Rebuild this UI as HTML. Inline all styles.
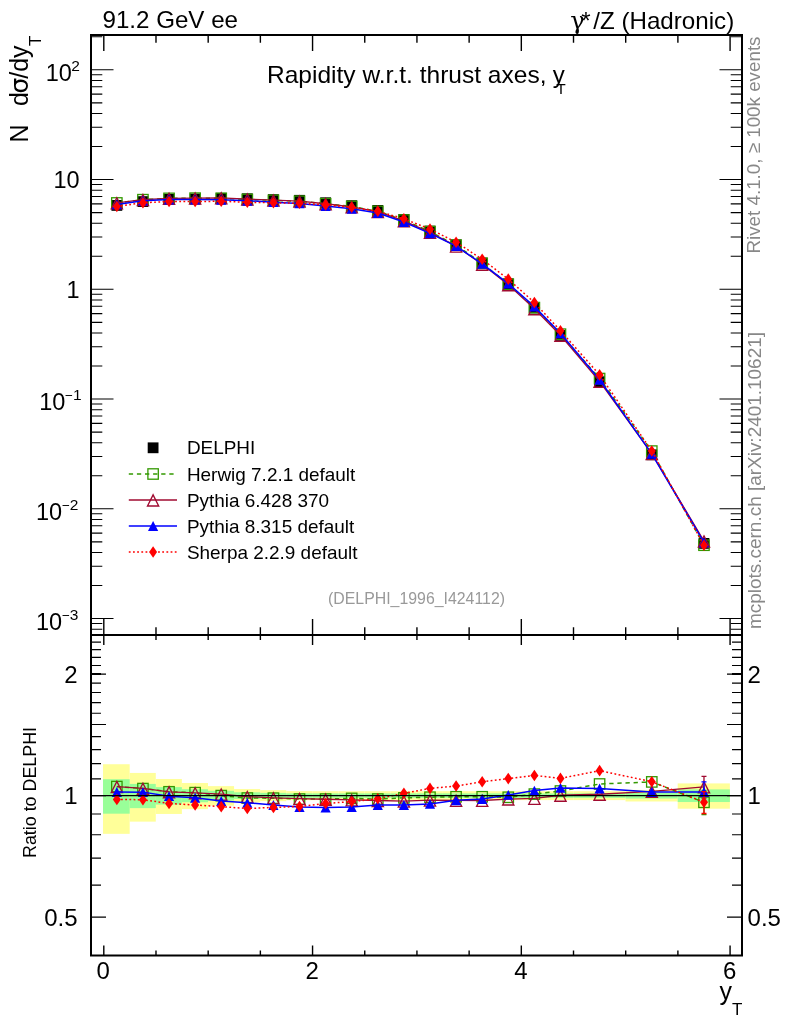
<!DOCTYPE html>
<html lang="en"><head><meta charset="utf-8"><title>Rapidity w.r.t. thrust axes</title>
<style>html,body{margin:0;padding:0;background:#fff}svg{display:block}text{font-family:"Liberation Sans",Arial,Helvetica,sans-serif;fill:#000}.sym{font-family:"Liberation Serif","DejaVu Serif",serif}.g{fill:#888}</style></head><body>
<svg width="786" height="1024" viewBox="0 0 786 1024">
<rect width="786" height="1024" fill="#fff"/>
<g id="bands">
<rect x="103" y="764.23" width="26.69" height="69.61" fill="#ffff99"/>
<rect x="129.69" y="772.94" width="26.1" height="48.69" fill="#ffff99"/>
<rect x="155.79" y="778.99" width="26.09" height="34.96" fill="#ffff99"/>
<rect x="181.88" y="783.02" width="26.1" height="26.13" fill="#ffff99"/>
<rect x="207.98" y="786.12" width="26.09" height="19.51" fill="#ffff99"/>
<rect x="234.07" y="789.06" width="26.1" height="13.33" fill="#ffff99"/>
<rect x="260.17" y="790.18" width="26.09" height="11.01" fill="#ffff99"/>
<rect x="286.26" y="791.1" width="26.1" height="9.12" fill="#ffff99"/>
<rect x="312.36" y="791.2" width="26.09" height="8.91" fill="#ffff99"/>
<rect x="338.45" y="791.2" width="26.1" height="8.91" fill="#ffff99"/>
<rect x="364.55" y="791.2" width="26.09" height="8.91" fill="#ffff99"/>
<rect x="390.64" y="791.2" width="26.1" height="8.91" fill="#ffff99"/>
<rect x="416.74" y="791.2" width="26.1" height="8.91" fill="#ffff99"/>
<rect x="442.84" y="791.2" width="26.09" height="8.91" fill="#ffff99"/>
<rect x="468.93" y="791.2" width="26.09" height="8.91" fill="#ffff99"/>
<rect x="495.02" y="791.2" width="26.09" height="8.91" fill="#ffff99"/>
<rect x="521.12" y="791.2" width="26.1" height="8.91" fill="#ffff99"/>
<rect x="547.21" y="791.2" width="26.1" height="8.91" fill="#ffff99"/>
<rect x="573.31" y="791.2" width="52.19" height="8.91" fill="#ffff99"/>
<rect x="625.5" y="789.91" width="52.19" height="11.57" fill="#ffff99"/>
<rect x="677.69" y="783.41" width="52.19" height="25.28" fill="#ffff99"/>
<rect x="103" y="779.21" width="26.69" height="34.47" fill="#99ff99"/>
<rect x="129.69" y="783.9" width="26.1" height="24.23" fill="#99ff99"/>
<rect x="155.79" y="787.1" width="26.09" height="17.44" fill="#99ff99"/>
<rect x="181.88" y="789.2" width="26.1" height="13.05" fill="#99ff99"/>
<rect x="207.98" y="790.79" width="26.09" height="9.75" fill="#99ff99"/>
<rect x="234.07" y="792.3" width="26.1" height="6.66" fill="#99ff99"/>
<rect x="260.17" y="792.87" width="26.09" height="5.5" fill="#99ff99"/>
<rect x="286.26" y="793.34" width="26.1" height="4.56" fill="#99ff99"/>
<rect x="312.36" y="793.39" width="26.09" height="4.45" fill="#99ff99"/>
<rect x="338.45" y="793.39" width="26.1" height="4.45" fill="#99ff99"/>
<rect x="364.55" y="793.39" width="26.09" height="4.45" fill="#99ff99"/>
<rect x="390.64" y="793.39" width="26.1" height="4.45" fill="#99ff99"/>
<rect x="416.74" y="793.39" width="26.1" height="4.45" fill="#99ff99"/>
<rect x="442.84" y="793.39" width="26.09" height="4.45" fill="#99ff99"/>
<rect x="468.93" y="793.39" width="26.09" height="4.45" fill="#99ff99"/>
<rect x="495.02" y="793.39" width="26.09" height="4.45" fill="#99ff99"/>
<rect x="521.12" y="793.39" width="26.1" height="4.45" fill="#99ff99"/>
<rect x="547.21" y="793.39" width="26.1" height="4.45" fill="#99ff99"/>
<rect x="573.31" y="793.39" width="52.19" height="4.45" fill="#99ff99"/>
<rect x="625.5" y="792.73" width="52.19" height="5.78" fill="#99ff99"/>
<rect x="677.69" y="789.4" width="52.19" height="12.63" fill="#99ff99"/>
</g>
<g id="main">
<rect x="111.45" y="200" width="10.8" height="10.8" fill="#000"/>
<rect x="137.54" y="196.2" width="10.8" height="10.8" fill="#000"/>
<rect x="163.64" y="194" width="10.8" height="10.8" fill="#000"/>
<rect x="189.73" y="193.55" width="10.8" height="10.8" fill="#000"/>
<rect x="215.83" y="192.9" width="10.8" height="10.8" fill="#000"/>
<rect x="241.92" y="193.35" width="10.8" height="10.8" fill="#000"/>
<rect x="268.02" y="194.2" width="10.8" height="10.8" fill="#000"/>
<rect x="294.11" y="194.9" width="10.8" height="10.8" fill="#000"/>
<rect x="320.21" y="197.35" width="10.8" height="10.8" fill="#000"/>
<rect x="346.3" y="200.25" width="10.8" height="10.8" fill="#000"/>
<rect x="372.4" y="205" width="10.8" height="10.8" fill="#000"/>
<rect x="398.49" y="214" width="10.8" height="10.8" fill="#000"/>
<rect x="424.59" y="225.7" width="10.8" height="10.8" fill="#000"/>
<rect x="450.68" y="239.4" width="10.8" height="10.8" fill="#000"/>
<rect x="476.78" y="257.6" width="10.8" height="10.8" fill="#000"/>
<rect x="502.87" y="278.4" width="10.8" height="10.8" fill="#000"/>
<rect x="528.97" y="302.6" width="10.8" height="10.8" fill="#000"/>
<rect x="555.06" y="330" width="10.8" height="10.8" fill="#000"/>
<rect x="594.2" y="376.3" width="10.8" height="10.8" fill="#000"/>
<rect x="646.39" y="449.4" width="10.8" height="10.8" fill="#000"/>
<rect x="698.58" y="538" width="10.8" height="10.8" fill="#000"/>
<polyline points="116.85,202.94 142.94,199.68 169.04,198.36 195.13,198.15 221.23,198.3 247.32,199.42 273.42,200.3 299.51,201.24 325.61,203.69 351.7,206.41 377.8,211.34 403.89,220.02 429.99,231.54 456.08,245.12 482.18,263.32 508.27,284.26 534.37,307.59 560.46,334.15 599.6,378.54 651.79,451.07 703.98,545.22" fill="none" stroke="#339900" stroke-width="1.5" stroke-dasharray="4.3 3.8"/>
<rect x="111.65" y="197.74" width="10.4" height="10.4" fill="none" stroke="#339900" stroke-width="1.3"/>
<rect x="137.74" y="194.48" width="10.4" height="10.4" fill="none" stroke="#339900" stroke-width="1.3"/>
<rect x="163.84" y="193.16" width="10.4" height="10.4" fill="none" stroke="#339900" stroke-width="1.3"/>
<rect x="189.93" y="192.95" width="10.4" height="10.4" fill="none" stroke="#339900" stroke-width="1.3"/>
<rect x="216.03" y="193.1" width="10.4" height="10.4" fill="none" stroke="#339900" stroke-width="1.3"/>
<rect x="242.12" y="194.22" width="10.4" height="10.4" fill="none" stroke="#339900" stroke-width="1.3"/>
<rect x="268.22" y="195.1" width="10.4" height="10.4" fill="none" stroke="#339900" stroke-width="1.3"/>
<rect x="294.31" y="196.04" width="10.4" height="10.4" fill="none" stroke="#339900" stroke-width="1.3"/>
<rect x="320.41" y="198.49" width="10.4" height="10.4" fill="none" stroke="#339900" stroke-width="1.3"/>
<rect x="346.5" y="201.21" width="10.4" height="10.4" fill="none" stroke="#339900" stroke-width="1.3"/>
<rect x="372.6" y="206.14" width="10.4" height="10.4" fill="none" stroke="#339900" stroke-width="1.3"/>
<rect x="398.69" y="214.82" width="10.4" height="10.4" fill="none" stroke="#339900" stroke-width="1.3"/>
<rect x="424.79" y="226.34" width="10.4" height="10.4" fill="none" stroke="#339900" stroke-width="1.3"/>
<rect x="450.88" y="239.92" width="10.4" height="10.4" fill="none" stroke="#339900" stroke-width="1.3"/>
<rect x="476.98" y="258.12" width="10.4" height="10.4" fill="none" stroke="#339900" stroke-width="1.3"/>
<rect x="503.07" y="279.06" width="10.4" height="10.4" fill="none" stroke="#339900" stroke-width="1.3"/>
<rect x="529.17" y="302.39" width="10.4" height="10.4" fill="none" stroke="#339900" stroke-width="1.3"/>
<rect x="555.26" y="328.95" width="10.4" height="10.4" fill="none" stroke="#339900" stroke-width="1.3"/>
<rect x="594.4" y="373.34" width="10.4" height="10.4" fill="none" stroke="#339900" stroke-width="1.3"/>
<rect x="646.59" y="445.87" width="10.4" height="10.4" fill="none" stroke="#339900" stroke-width="1.3"/>
<rect x="698.78" y="540.02" width="10.4" height="10.4" fill="none" stroke="#339900" stroke-width="1.3"/>
<polyline points="116.85,202.94 142.94,199.64 169.04,198.36 195.13,198.19 221.23,197.92 247.32,199.04 273.42,200.22 299.51,201.13 325.61,203.75 351.7,206.84 377.8,211.73 403.89,220.92 429.99,232.34 456.08,246.09 482.18,264.33 508.27,284.74 534.37,308.75 560.46,335.31 599.6,381.33 651.79,453.67 703.98,541.03" fill="none" stroke="#a00a30" stroke-width="1.3"/>
<path d="M116.85 197.8L122.45 208.9L111.25 208.9Z" fill="none" stroke="#a00a30" stroke-width="1.35" stroke-linejoin="miter"/>
<path d="M142.94 194.5L148.54 205.6L137.34 205.6Z" fill="none" stroke="#a00a30" stroke-width="1.35" stroke-linejoin="miter"/>
<path d="M169.04 193.22L174.64 204.32L163.44 204.32Z" fill="none" stroke="#a00a30" stroke-width="1.35" stroke-linejoin="miter"/>
<path d="M195.13 193.05L200.73 204.15L189.53 204.15Z" fill="none" stroke="#a00a30" stroke-width="1.35" stroke-linejoin="miter"/>
<path d="M221.23 192.78L226.83 203.88L215.63 203.88Z" fill="none" stroke="#a00a30" stroke-width="1.35" stroke-linejoin="miter"/>
<path d="M247.32 193.9L252.92 205L241.72 205Z" fill="none" stroke="#a00a30" stroke-width="1.35" stroke-linejoin="miter"/>
<path d="M273.42 195.08L279.02 206.18L267.82 206.18Z" fill="none" stroke="#a00a30" stroke-width="1.35" stroke-linejoin="miter"/>
<path d="M299.51 195.99L305.11 207.09L293.91 207.09Z" fill="none" stroke="#a00a30" stroke-width="1.35" stroke-linejoin="miter"/>
<path d="M325.61 198.61L331.21 209.71L320.01 209.71Z" fill="none" stroke="#a00a30" stroke-width="1.35" stroke-linejoin="miter"/>
<path d="M351.7 201.7L357.3 212.8L346.1 212.8Z" fill="none" stroke="#a00a30" stroke-width="1.35" stroke-linejoin="miter"/>
<path d="M377.8 206.59L383.4 217.69L372.2 217.69Z" fill="none" stroke="#a00a30" stroke-width="1.35" stroke-linejoin="miter"/>
<path d="M403.89 215.78L409.49 226.88L398.29 226.88Z" fill="none" stroke="#a00a30" stroke-width="1.35" stroke-linejoin="miter"/>
<path d="M429.99 227.2L435.59 238.3L424.39 238.3Z" fill="none" stroke="#a00a30" stroke-width="1.35" stroke-linejoin="miter"/>
<path d="M456.08 240.95L461.68 252.05L450.48 252.05Z" fill="none" stroke="#a00a30" stroke-width="1.35" stroke-linejoin="miter"/>
<path d="M482.18 259.19L487.78 270.29L476.58 270.29Z" fill="none" stroke="#a00a30" stroke-width="1.35" stroke-linejoin="miter"/>
<path d="M508.27 279.6L513.87 290.7L502.67 290.7Z" fill="none" stroke="#a00a30" stroke-width="1.35" stroke-linejoin="miter"/>
<path d="M534.37 303.61L539.97 314.71L528.77 314.71Z" fill="none" stroke="#a00a30" stroke-width="1.35" stroke-linejoin="miter"/>
<path d="M560.46 330.17L566.06 341.27L554.86 341.27Z" fill="none" stroke="#a00a30" stroke-width="1.35" stroke-linejoin="miter"/>
<path d="M599.6 376.19L605.2 387.29L594 387.29Z" fill="none" stroke="#a00a30" stroke-width="1.35" stroke-linejoin="miter"/>
<path d="M651.79 448.53L657.39 459.63L646.19 459.63Z" fill="none" stroke="#a00a30" stroke-width="1.35" stroke-linejoin="miter"/>
<path d="M703.98 535.89L709.58 546.99L698.38 546.99Z" fill="none" stroke="#a00a30" stroke-width="1.35" stroke-linejoin="miter"/>
<polyline points="116.85,204.41 142.94,200.66 169.04,199.54 195.13,199.55 221.23,199.75 247.32,200.7 273.42,202.16 299.51,203.4 325.61,206.01 351.7,208.77 377.8,212.94 403.89,221.94 429.99,233.35 456.08,246.09 482.18,263.91 508.27,283.61 534.37,306.63 560.46,333.3 599.6,379.77 651.79,453.81 703.98,542.4" fill="none" stroke="#0000ff" stroke-width="1.5"/>
<path d="M116.85 199.46L121.95 209.36L111.75 209.36Z" fill="#0000ff"/>
<path d="M142.94 195.71L148.04 205.61L137.84 205.61Z" fill="#0000ff"/>
<path d="M169.04 194.59L174.14 204.49L163.94 204.49Z" fill="#0000ff"/>
<path d="M195.13 194.6L200.23 204.5L190.03 204.5Z" fill="#0000ff"/>
<path d="M221.23 194.8L226.33 204.7L216.13 204.7Z" fill="#0000ff"/>
<path d="M247.32 195.75L252.42 205.65L242.22 205.65Z" fill="#0000ff"/>
<path d="M273.42 197.21L278.52 207.11L268.32 207.11Z" fill="#0000ff"/>
<path d="M299.51 198.45L304.61 208.35L294.41 208.35Z" fill="#0000ff"/>
<path d="M325.61 201.06L330.71 210.96L320.51 210.96Z" fill="#0000ff"/>
<path d="M351.7 203.82L356.8 213.72L346.6 213.72Z" fill="#0000ff"/>
<path d="M377.8 207.99L382.9 217.89L372.7 217.89Z" fill="#0000ff"/>
<path d="M403.89 216.99L408.99 226.89L398.79 226.89Z" fill="#0000ff"/>
<path d="M429.99 228.4L435.09 238.3L424.89 238.3Z" fill="#0000ff"/>
<path d="M456.08 241.14L461.18 251.04L450.98 251.04Z" fill="#0000ff"/>
<path d="M482.18 258.96L487.28 268.86L477.08 268.86Z" fill="#0000ff"/>
<path d="M508.27 278.66L513.37 288.56L503.17 288.56Z" fill="#0000ff"/>
<path d="M534.37 301.68L539.47 311.58L529.27 311.58Z" fill="#0000ff"/>
<path d="M560.46 328.35L565.56 338.25L555.36 338.25Z" fill="#0000ff"/>
<path d="M599.6 374.82L604.7 384.72L594.5 384.72Z" fill="#0000ff"/>
<path d="M651.79 448.86L656.89 458.76L646.69 458.76Z" fill="#0000ff"/>
<path d="M703.98 537.45L709.08 547.35L698.88 547.35Z" fill="#0000ff"/>
<polyline points="116.85,206.46 142.94,202.71 169.04,201.54 195.13,201.5 221.23,201.3 247.32,202.26 273.42,202.81 299.51,203.27 325.61,204.89 351.7,207.28 377.8,211.26 403.89,218.77 429.99,229.14 456.08,242.2 482.18,259.25 508.27,279.17 534.37,302.52 560.46,330.72 599.6,374.91 651.79,451.02 703.98,545.2" fill="none" stroke="#ff0000" stroke-width="1.5" stroke-dasharray="1.8 2.38"/>
<path d="M116.85 200.66L120.85 206.46L116.85 212.26L112.85 206.46Z" fill="#ff0000"/>
<path d="M142.94 196.91L146.94 202.71L142.94 208.51L138.94 202.71Z" fill="#ff0000"/>
<path d="M169.04 195.74L173.04 201.54L169.04 207.34L165.04 201.54Z" fill="#ff0000"/>
<path d="M195.13 195.7L199.13 201.5L195.13 207.3L191.13 201.5Z" fill="#ff0000"/>
<path d="M221.23 195.5L225.23 201.3L221.23 207.1L217.23 201.3Z" fill="#ff0000"/>
<path d="M247.32 196.46L251.32 202.26L247.32 208.06L243.32 202.26Z" fill="#ff0000"/>
<path d="M273.42 197.01L277.42 202.81L273.42 208.61L269.42 202.81Z" fill="#ff0000"/>
<path d="M299.51 197.47L303.51 203.27L299.51 209.07L295.51 203.27Z" fill="#ff0000"/>
<path d="M325.61 199.09L329.61 204.89L325.61 210.69L321.61 204.89Z" fill="#ff0000"/>
<path d="M351.7 201.48L355.7 207.28L351.7 213.08L347.7 207.28Z" fill="#ff0000"/>
<path d="M377.8 205.46L381.8 211.26L377.8 217.06L373.8 211.26Z" fill="#ff0000"/>
<path d="M403.89 212.97L407.89 218.77L403.89 224.57L399.89 218.77Z" fill="#ff0000"/>
<path d="M429.99 223.34L433.99 229.14L429.99 234.94L425.99 229.14Z" fill="#ff0000"/>
<path d="M456.08 236.4L460.08 242.2L456.08 248L452.08 242.2Z" fill="#ff0000"/>
<path d="M482.18 253.45L486.18 259.25L482.18 265.05L478.18 259.25Z" fill="#ff0000"/>
<path d="M508.27 273.37L512.27 279.17L508.27 284.97L504.27 279.17Z" fill="#ff0000"/>
<path d="M534.37 296.72L538.37 302.52L534.37 308.32L530.37 302.52Z" fill="#ff0000"/>
<path d="M560.46 324.92L564.46 330.72L560.46 336.52L556.46 330.72Z" fill="#ff0000"/>
<path d="M599.6 369.11L603.6 374.91L599.6 380.71L595.6 374.91Z" fill="#ff0000"/>
<path d="M651.79 445.22L655.79 451.02L651.79 456.82L647.79 451.02Z" fill="#ff0000"/>
<path d="M703.98 539.4L707.98 545.2L703.98 551L699.98 545.2Z" fill="#ff0000"/>
</g>
<g id="ratio">
<polyline points="116.85,786.55 142.94,788.56 169.04,791.79 195.13,792.65 221.23,795.6 247.32,798.06 273.42,798.16 299.51,799.05 325.61,799.05 351.7,798.39 377.8,799.05 403.89,797.86 429.99,797.23 456.08,796.78 482.18,796.78 508.27,797.28 534.37,794.11 560.46,791.02 599.6,783.99 651.79,781.9 703.98,802.3" fill="none" stroke="#339900" stroke-width="1.5" stroke-dasharray="4.3 3.8"/>
<path d="M703.98 790.84V814.56M701.48 790.84H706.48M701.48 814.56H706.48" stroke="#339900" stroke-width="1.3" fill="none"/>
<rect x="111.65" y="781.35" width="10.4" height="10.4" fill="none" stroke="#339900" stroke-width="1.3"/>
<rect x="137.74" y="783.36" width="10.4" height="10.4" fill="none" stroke="#339900" stroke-width="1.3"/>
<rect x="163.84" y="786.59" width="10.4" height="10.4" fill="none" stroke="#339900" stroke-width="1.3"/>
<rect x="189.93" y="787.45" width="10.4" height="10.4" fill="none" stroke="#339900" stroke-width="1.3"/>
<rect x="216.03" y="790.4" width="10.4" height="10.4" fill="none" stroke="#339900" stroke-width="1.3"/>
<rect x="242.12" y="792.86" width="10.4" height="10.4" fill="none" stroke="#339900" stroke-width="1.3"/>
<rect x="268.22" y="792.96" width="10.4" height="10.4" fill="none" stroke="#339900" stroke-width="1.3"/>
<rect x="294.31" y="793.85" width="10.4" height="10.4" fill="none" stroke="#339900" stroke-width="1.3"/>
<rect x="320.41" y="793.85" width="10.4" height="10.4" fill="none" stroke="#339900" stroke-width="1.3"/>
<rect x="346.5" y="793.19" width="10.4" height="10.4" fill="none" stroke="#339900" stroke-width="1.3"/>
<rect x="372.6" y="793.85" width="10.4" height="10.4" fill="none" stroke="#339900" stroke-width="1.3"/>
<rect x="398.69" y="792.66" width="10.4" height="10.4" fill="none" stroke="#339900" stroke-width="1.3"/>
<rect x="424.79" y="792.03" width="10.4" height="10.4" fill="none" stroke="#339900" stroke-width="1.3"/>
<rect x="450.88" y="791.58" width="10.4" height="10.4" fill="none" stroke="#339900" stroke-width="1.3"/>
<rect x="476.98" y="791.58" width="10.4" height="10.4" fill="none" stroke="#339900" stroke-width="1.3"/>
<rect x="503.07" y="792.08" width="10.4" height="10.4" fill="none" stroke="#339900" stroke-width="1.3"/>
<rect x="529.17" y="788.91" width="10.4" height="10.4" fill="none" stroke="#339900" stroke-width="1.3"/>
<rect x="555.26" y="785.82" width="10.4" height="10.4" fill="none" stroke="#339900" stroke-width="1.3"/>
<rect x="594.4" y="778.79" width="10.4" height="10.4" fill="none" stroke="#339900" stroke-width="1.3"/>
<rect x="646.59" y="776.7" width="10.4" height="10.4" fill="none" stroke="#339900" stroke-width="1.3"/>
<rect x="698.78" y="797.1" width="10.4" height="10.4" fill="none" stroke="#339900" stroke-width="1.3"/>
<polyline points="116.85,786.55 142.94,788.39 169.04,791.79 195.13,792.82 221.23,794.2 247.32,796.65 273.42,797.86 299.51,798.65 325.61,799.26 351.7,799.96 377.8,800.5 403.89,801.18 429.99,800.16 456.08,800.36 482.18,800.48 508.27,799.07 534.37,798.36 560.46,795.25 599.6,794.26 651.79,791.43 703.98,786.88" fill="none" stroke="#a00a30" stroke-width="1.3"/>
<path d="M703.98 776.36V798.07M701.48 776.36H706.48M701.48 798.07H706.48" stroke="#a00a30" stroke-width="1.3" fill="none"/>
<path d="M116.85 781.41L122.45 792.51L111.25 792.51Z" fill="none" stroke="#a00a30" stroke-width="1.35" stroke-linejoin="miter"/>
<path d="M142.94 783.25L148.54 794.35L137.34 794.35Z" fill="none" stroke="#a00a30" stroke-width="1.35" stroke-linejoin="miter"/>
<path d="M169.04 786.65L174.64 797.75L163.44 797.75Z" fill="none" stroke="#a00a30" stroke-width="1.35" stroke-linejoin="miter"/>
<path d="M195.13 787.68L200.73 798.78L189.53 798.78Z" fill="none" stroke="#a00a30" stroke-width="1.35" stroke-linejoin="miter"/>
<path d="M221.23 789.06L226.83 800.16L215.63 800.16Z" fill="none" stroke="#a00a30" stroke-width="1.35" stroke-linejoin="miter"/>
<path d="M247.32 791.51L252.92 802.61L241.72 802.61Z" fill="none" stroke="#a00a30" stroke-width="1.35" stroke-linejoin="miter"/>
<path d="M273.42 792.72L279.02 803.82L267.82 803.82Z" fill="none" stroke="#a00a30" stroke-width="1.35" stroke-linejoin="miter"/>
<path d="M299.51 793.51L305.11 804.61L293.91 804.61Z" fill="none" stroke="#a00a30" stroke-width="1.35" stroke-linejoin="miter"/>
<path d="M325.61 794.12L331.21 805.22L320.01 805.22Z" fill="none" stroke="#a00a30" stroke-width="1.35" stroke-linejoin="miter"/>
<path d="M351.7 794.82L357.3 805.92L346.1 805.92Z" fill="none" stroke="#a00a30" stroke-width="1.35" stroke-linejoin="miter"/>
<path d="M377.8 795.36L383.4 806.46L372.2 806.46Z" fill="none" stroke="#a00a30" stroke-width="1.35" stroke-linejoin="miter"/>
<path d="M403.89 796.04L409.49 807.14L398.29 807.14Z" fill="none" stroke="#a00a30" stroke-width="1.35" stroke-linejoin="miter"/>
<path d="M429.99 795.02L435.59 806.12L424.39 806.12Z" fill="none" stroke="#a00a30" stroke-width="1.35" stroke-linejoin="miter"/>
<path d="M456.08 795.22L461.68 806.32L450.48 806.32Z" fill="none" stroke="#a00a30" stroke-width="1.35" stroke-linejoin="miter"/>
<path d="M482.18 795.34L487.78 806.44L476.58 806.44Z" fill="none" stroke="#a00a30" stroke-width="1.35" stroke-linejoin="miter"/>
<path d="M508.27 793.93L513.87 805.03L502.67 805.03Z" fill="none" stroke="#a00a30" stroke-width="1.35" stroke-linejoin="miter"/>
<path d="M534.37 793.22L539.97 804.32L528.77 804.32Z" fill="none" stroke="#a00a30" stroke-width="1.35" stroke-linejoin="miter"/>
<path d="M560.46 790.11L566.06 801.21L554.86 801.21Z" fill="none" stroke="#a00a30" stroke-width="1.35" stroke-linejoin="miter"/>
<path d="M599.6 789.12L605.2 800.22L594 800.22Z" fill="none" stroke="#a00a30" stroke-width="1.35" stroke-linejoin="miter"/>
<path d="M651.79 786.29L657.39 797.39L646.19 797.39Z" fill="none" stroke="#a00a30" stroke-width="1.35" stroke-linejoin="miter"/>
<path d="M703.98 781.74L709.58 792.84L698.38 792.84Z" fill="none" stroke="#a00a30" stroke-width="1.35" stroke-linejoin="miter"/>
<polyline points="116.85,791.96 142.94,792.13 169.04,796.13 195.13,797.8 221.23,800.94 247.32,802.76 273.42,805.02 299.51,807.02 325.61,807.57 351.7,807.09 377.8,804.94 403.89,804.94 429.99,803.89 456.08,800.36 482.18,798.96 508.27,794.9 534.37,790.58 560.46,787.88 599.6,788.48 651.79,791.94 703.98,791.93" fill="none" stroke="#0000ff" stroke-width="1.5"/>
<path d="M703.98 781.92V802.54M701.48 781.92H706.48M701.48 802.54H706.48" stroke="#0000ff" stroke-width="1.3" fill="none"/>
<path d="M116.85 787.01L121.95 796.91L111.75 796.91Z" fill="#0000ff"/>
<path d="M142.94 787.18L148.04 797.08L137.84 797.08Z" fill="#0000ff"/>
<path d="M169.04 791.18L174.14 801.08L163.94 801.08Z" fill="#0000ff"/>
<path d="M195.13 792.85L200.23 802.75L190.03 802.75Z" fill="#0000ff"/>
<path d="M221.23 795.99L226.33 805.89L216.13 805.89Z" fill="#0000ff"/>
<path d="M247.32 797.81L252.42 807.71L242.22 807.71Z" fill="#0000ff"/>
<path d="M273.42 800.07L278.52 809.97L268.32 809.97Z" fill="#0000ff"/>
<path d="M299.51 802.07L304.61 811.97L294.41 811.97Z" fill="#0000ff"/>
<path d="M325.61 802.62L330.71 812.52L320.51 812.52Z" fill="#0000ff"/>
<path d="M351.7 802.14L356.8 812.04L346.6 812.04Z" fill="#0000ff"/>
<path d="M377.8 799.99L382.9 809.89L372.7 809.89Z" fill="#0000ff"/>
<path d="M403.89 799.99L408.99 809.89L398.79 809.89Z" fill="#0000ff"/>
<path d="M429.99 798.94L435.09 808.84L424.89 808.84Z" fill="#0000ff"/>
<path d="M456.08 795.41L461.18 805.31L450.98 805.31Z" fill="#0000ff"/>
<path d="M482.18 794.01L487.28 803.91L477.08 803.91Z" fill="#0000ff"/>
<path d="M508.27 789.95L513.37 799.85L503.17 799.85Z" fill="#0000ff"/>
<path d="M534.37 785.63L539.47 795.53L529.27 795.53Z" fill="#0000ff"/>
<path d="M560.46 782.93L565.56 792.83L555.36 792.83Z" fill="#0000ff"/>
<path d="M599.6 783.53L604.7 793.43L594.5 793.43Z" fill="#0000ff"/>
<path d="M651.79 786.99L656.89 796.89L646.69 796.89Z" fill="#0000ff"/>
<path d="M703.98 786.98L709.08 796.88L698.88 796.88Z" fill="#0000ff"/>
<polyline points="116.85,799.5 142.94,799.68 169.04,803.49 195.13,804.96 221.23,806.64 247.32,808.52 273.42,807.39 299.51,806.52 325.61,803.46 351.7,801.58 377.8,798.75 403.89,793.29 429.99,788.38 456.08,786.06 482.18,781.8 508.27,778.58 534.37,775.44 560.46,778.38 599.6,770.64 651.79,781.7 703.98,802.21" fill="none" stroke="#ff0000" stroke-width="1.5" stroke-dasharray="1.8 2.38"/>
<path d="M703.98 791.61V813.48M701.48 791.61H706.48M701.48 813.48H706.48" stroke="#ff0000" stroke-width="1.3" fill="none"/>
<path d="M116.85 793.7L120.85 799.5L116.85 805.3L112.85 799.5Z" fill="#ff0000"/>
<path d="M142.94 793.88L146.94 799.68L142.94 805.48L138.94 799.68Z" fill="#ff0000"/>
<path d="M169.04 797.69L173.04 803.49L169.04 809.29L165.04 803.49Z" fill="#ff0000"/>
<path d="M195.13 799.16L199.13 804.96L195.13 810.76L191.13 804.96Z" fill="#ff0000"/>
<path d="M221.23 800.84L225.23 806.64L221.23 812.44L217.23 806.64Z" fill="#ff0000"/>
<path d="M247.32 802.72L251.32 808.52L247.32 814.32L243.32 808.52Z" fill="#ff0000"/>
<path d="M273.42 801.59L277.42 807.39L273.42 813.19L269.42 807.39Z" fill="#ff0000"/>
<path d="M299.51 800.72L303.51 806.52L299.51 812.32L295.51 806.52Z" fill="#ff0000"/>
<path d="M325.61 797.66L329.61 803.46L325.61 809.26L321.61 803.46Z" fill="#ff0000"/>
<path d="M351.7 795.78L355.7 801.58L351.7 807.38L347.7 801.58Z" fill="#ff0000"/>
<path d="M377.8 792.95L381.8 798.75L377.8 804.55L373.8 798.75Z" fill="#ff0000"/>
<path d="M403.89 787.49L407.89 793.29L403.89 799.09L399.89 793.29Z" fill="#ff0000"/>
<path d="M429.99 782.58L433.99 788.38L429.99 794.18L425.99 788.38Z" fill="#ff0000"/>
<path d="M456.08 780.26L460.08 786.06L456.08 791.86L452.08 786.06Z" fill="#ff0000"/>
<path d="M482.18 776L486.18 781.8L482.18 787.6L478.18 781.8Z" fill="#ff0000"/>
<path d="M508.27 772.78L512.27 778.58L508.27 784.38L504.27 778.58Z" fill="#ff0000"/>
<path d="M534.37 769.64L538.37 775.44L534.37 781.24L530.37 775.44Z" fill="#ff0000"/>
<path d="M560.46 772.58L564.46 778.38L560.46 784.18L556.46 778.38Z" fill="#ff0000"/>
<path d="M599.6 764.84L603.6 770.64L599.6 776.44L595.6 770.64Z" fill="#ff0000"/>
<path d="M651.79 775.9L655.79 781.7L651.79 787.5L647.79 781.7Z" fill="#ff0000"/>
<path d="M703.98 796.41L707.98 802.21L703.98 808.01L699.98 802.21Z" fill="#ff0000"/>
<line x1="91" y1="795.6" x2="742" y2="795.6" stroke="#000" stroke-width="1.15"/>
</g>
<g id="axes" stroke="#000" fill="none">
<rect x="91" y="35" width="651" height="920.5" stroke-width="2"/>
<line x1="91" y1="635" x2="742" y2="635" stroke-width="2"/>
<path d="M103.8 35v16M103.8 619V645M103.8 955.5v-10M155.99 35v7.8M155.99 627.2V640M155.99 955.5v-5M208.18 35v7.8M208.18 627.2V640M208.18 955.5v-5M260.37 35v7.8M260.37 627.2V640M260.37 955.5v-5M312.56 35v16M312.56 619V645M312.56 955.5v-10M364.75 35v7.8M364.75 627.2V640M364.75 955.5v-5M416.94 35v7.8M416.94 627.2V640M416.94 955.5v-5M469.13 35v7.8M469.13 627.2V640M469.13 955.5v-5M521.32 35v16M521.32 619V645M521.32 955.5v-10M573.51 35v7.8M573.51 627.2V640M573.51 955.5v-5M625.7 35v7.8M625.7 627.2V640M625.7 955.5v-5M677.89 35v7.8M677.89 627.2V640M677.89 955.5v-5M730.08 35v16M730.08 619V645M730.08 955.5v-10" stroke-width="1.4"/>
<path d="M91 629.19h11.3M742 629.19h-11.3M91 623.57h11.3M742 623.57h-11.3M91 618.55h22.5M742 618.55h-22.5M91 585.51h11.3M742 585.51h-11.3M91 566.19h11.3M742 566.19h-11.3M91 552.47h11.3M742 552.47h-11.3M91 541.84h11.3M742 541.84h-11.3M91 533.15h11.3M742 533.15h-11.3M91 525.8h11.3M742 525.8h-11.3M91 519.44h11.3M742 519.44h-11.3M91 513.82h11.3M742 513.82h-11.3M91 508.8h22.5M742 508.8h-22.5M91 475.76h11.3M742 475.76h-11.3M91 456.44h11.3M742 456.44h-11.3M91 442.72h11.3M742 442.72h-11.3M91 432.09h11.3M742 432.09h-11.3M91 423.4h11.3M742 423.4h-11.3M91 416.05h11.3M742 416.05h-11.3M91 409.69h11.3M742 409.69h-11.3M91 404.07h11.3M742 404.07h-11.3M91 399.05h22.5M742 399.05h-22.5M91 366.01h11.3M742 366.01h-11.3M91 346.69h11.3M742 346.69h-11.3M91 332.97h11.3M742 332.97h-11.3M91 322.34h11.3M742 322.34h-11.3M91 313.65h11.3M742 313.65h-11.3M91 306.3h11.3M742 306.3h-11.3M91 299.94h11.3M742 299.94h-11.3M91 294.32h11.3M742 294.32h-11.3M91 289.3h22.5M742 289.3h-22.5M91 256.26h11.3M742 256.26h-11.3M91 236.94h11.3M742 236.94h-11.3M91 223.22h11.3M742 223.22h-11.3M91 212.59h11.3M742 212.59h-11.3M91 203.9h11.3M742 203.9h-11.3M91 196.55h11.3M742 196.55h-11.3M91 190.19h11.3M742 190.19h-11.3M91 184.57h11.3M742 184.57h-11.3M91 179.55h22.5M742 179.55h-22.5M91 146.51h11.3M742 146.51h-11.3M91 127.19h11.3M742 127.19h-11.3M91 113.47h11.3M742 113.47h-11.3M91 102.84h11.3M742 102.84h-11.3M91 94.15h11.3M742 94.15h-11.3M91 86.8h11.3M742 86.8h-11.3M91 80.44h11.3M742 80.44h-11.3M91 74.82h11.3M742 74.82h-11.3M91 69.8h22.5M742 69.8h-22.5M91 36.76h11.3M742 36.76h-11.3M91 917.1h15M742 917.1h-15M91 885.14h10M742 885.14h-10M91 858.12h10M742 858.12h-10M91 834.71h10M742 834.71h-10M91 814.07h10M742 814.07h-10M91 795.6h15M742 795.6h-15M91 778.89h10M742 778.89h-10M91 763.64h10M742 763.64h-10M91 749.61h10M742 749.61h-10M91 736.62h10M742 736.62h-10M91 724.53h15M742 724.53h-15M91 713.22h10M742 713.22h-10M91 702.59h10M742 702.59h-10M91 692.57h10M742 692.57h-10M91 683.1h10M742 683.1h-10M91 674.1h15M742 674.1h-15M91 665.55h10M742 665.55h-10M91 657.4h10M742 657.4h-10M91 649.61h10M742 649.61h-10M91 642.15h10M742 642.15h-10" stroke-width="1.1"/>
<path d="M91 674.1h10M742 674.1h-10" stroke-width="2"/>
</g>
<g id="labels">
<text x="102.5" y="28.2" font-size="24" textLength="135.5" lengthAdjust="spacingAndGlyphs">91.2 GeV ee</text>
<text x="570.3" y="28.5" font-size="24" style="font-family:'DejaVu Serif',serif">γ</text>
<text x="581.2" y="28.5" font-size="24">*</text>
<text x="593.2" y="28.5" font-size="24" textLength="141" lengthAdjust="spacingAndGlyphs">/Z (Hadronic)</text>
<text x="267" y="82.8" font-size="24" textLength="279.5" lengthAdjust="spacingAndGlyphs">Rapidity w.r.t. thrust axes,</text>
<text x="552.8" y="82.8" font-size="24">y</text>
<text x="556.3" y="94" font-size="15.5">T</text>
<g transform="translate(28.2 142.5) rotate(-90)"><text x="0" y="0" font-size="25">N</text><text x="36.5" y="0" font-size="25">d<tspan style="font-family:'DejaVu Sans',sans-serif" font-size="25" dx="-1.5">σ</tspan><tspan dx="-1">/dy</tspan></text><text x="96.5" y="12.5" font-size="17">T</text></g>
<text x="71.8" y="81" font-size="23.5" text-anchor="end">10</text><text x="71.2" y="71" font-size="15.5">2</text>
<text x="79.6" y="187.95" font-size="23.5" text-anchor="end">10</text>
<text x="79.6" y="297.7" font-size="23.5" text-anchor="end">1</text>
<text x="65.3" y="410.25" font-size="23.5" text-anchor="end">10</text><text x="65" y="400.45" font-size="15.5"><tspan font-size="13.5">−</tspan>1</text>
<text x="62.2" y="520" font-size="23.5" text-anchor="end">10</text><text x="61.9" y="510.2" font-size="15.5"><tspan font-size="13.5">−</tspan>2</text>
<text x="62.2" y="629.75" font-size="23.5" text-anchor="end">10</text><text x="61.9" y="619.95" font-size="15.5"><tspan font-size="13.5">−</tspan>3</text>
<text x="77.5" y="682.6" font-size="24" text-anchor="end">2</text>
<text x="747.6" y="682.6" font-size="24">2</text>
<text x="77.5" y="804.1" font-size="24" text-anchor="end">1</text>
<text x="747.6" y="804.1" font-size="24">1</text>
<text x="77.5" y="925.6" font-size="24" text-anchor="end">0.5</text>
<text x="747.6" y="925.6" font-size="24">0.5</text>
<text x="103.3" y="979" font-size="24" text-anchor="middle">0</text>
<text x="312.06" y="979" font-size="24" text-anchor="middle">2</text>
<text x="520.82" y="979" font-size="24" text-anchor="middle">4</text>
<text x="729.58" y="979" font-size="24" text-anchor="middle">6</text>
<text x="719.5" y="1000.3" font-size="25">y</text><text x="732" y="1014.6" font-size="17">T</text>
<g transform="translate(36.3 858) rotate(-90)"><text font-size="18.5" textLength="131" lengthAdjust="spacingAndGlyphs">Ratio to DELPHI</text></g>
<g transform="translate(760.3 253.5) rotate(-90)"><text class="g" font-size="18.7" textLength="217" lengthAdjust="spacingAndGlyphs">Rivet 4.1.0, ≥ 100k events</text></g>
<g transform="translate(761.2 629) rotate(-90)"><text class="g" font-size="18.7" textLength="297" lengthAdjust="spacingAndGlyphs">mcplots.cern.ch [arXiv:2401.10621]</text></g>
<text x="328" y="604" font-size="15.7" fill="#999" style="fill:#999" textLength="177" lengthAdjust="spacingAndGlyphs">(DELPHI_1996_I424112)</text>
</g>
<g id="legend">
<rect x="147.7" y="442.4" width="10.8" height="10.8" fill="#000"/>
<line x1="128.8" y1="474" x2="177" y2="474" stroke="#339900" stroke-width="1.5" stroke-dasharray="4.3 3.8"/>
<rect x="147.9" y="468.8" width="10.4" height="10.4" fill="none" stroke="#339900" stroke-width="1.3"/>
<line x1="128.8" y1="500" x2="177" y2="500" stroke="#a00a30" stroke-width="1.5"/>
<path d="M153.1 494.86L158.7 505.96L147.5 505.96Z" fill="none" stroke="#a00a30" stroke-width="1.35" stroke-linejoin="miter"/>
<line x1="128.8" y1="526" x2="177" y2="526" stroke="#0000ff" stroke-width="1.5"/>
<path d="M153.1 521.05L158.2 530.95L148 530.95Z" fill="#0000ff"/>
<line x1="128.8" y1="552" x2="177" y2="552" stroke="#ff0000" stroke-width="1.5" stroke-dasharray="1.8 2.38"/>
<path d="M153.1 546.2L157.1 552L153.1 557.8L149.1 552Z" fill="#ff0000"/>
<text x="186.9" y="454.4" font-size="18.95">DELPHI</text>
<text x="186.9" y="480.6" font-size="18.95">Herwig 7.2.1 default</text>
<text x="186.9" y="506.6" font-size="18.95">Pythia 6.428 370</text>
<text x="186.9" y="532.6" font-size="18.95">Pythia 8.315 default</text>
<text x="186.9" y="558.6" font-size="18.95">Sherpa 2.2.9 default</text>
</g>
</svg></body></html>
